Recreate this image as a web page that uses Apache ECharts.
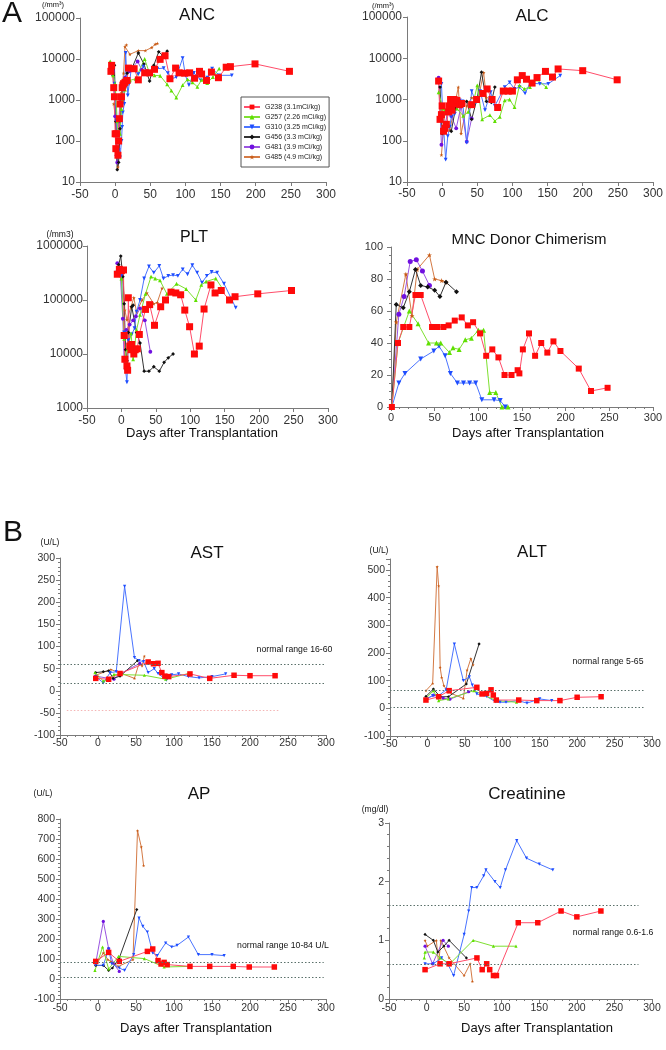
<!DOCTYPE html>
<html><head><meta charset="utf-8">
<script src="https://cdn.jsdelivr.net/npm/echarts@6/dist/echarts.min.js"></script>
<style>html,body{margin:0;padding:0;background:#fff}#c{width:666px;height:1050px}</style>
</head><body><div id="c"></div>
<script>
const subjects = ['G238 (3.1mCi/kg)','G257 (2.26 mCi/kg)','G310 (3.25 mCi/kg)','G456 (3.3 mCi/kg)','G481 (3.9 mCi/kg)','G485 (4.9 mCi/kg)'];

// ANC (/mm3)
const ancG238 = [[-6,5000],[-5,7000],[-2,2000],[-1,1200],[0,150],[1,65],[2,150],[4,45],[5,100],[6,350],[7,800],[9,1200],[10,2000],[11,2300],[12,2500],[14,2700],[17,3000],[19,6000],[27,5800],[33,3100],[42,4600],[49,4600],[56,5600],[64,9800],[71,12000],[78,3300],[86,6000],[91,4600],[99,4500],[106,4600],[113,3400],[120,5000],[123,4300],[130,3000],[137,4800],[147,3500],[158,6300],[164,6500],[199,7600],[248,5000]];
const ancG257 = [[-7,8800],[-5,6000],[-3,4000],[0,2500],[3,300],[5,100],[7,150],[9,600],[10,1000],[14,1800],[21,3000],[29,3300],[42,10000],[48,5000],[56,4000],[64,3900],[74,2400],[80,1700],[87,1150],[96,2300],[103,3200],[110,2700],[117,2100],[123,3100],[131,2600],[139,3600],[148,5800]];
const ancG310 = [[-5,7600],[-3,5000],[-1,2500],[2,300],[5,60],[7,40],[9,100],[10,220],[11,500],[13,800],[15,14000],[18,1300],[20,2500],[23,5600],[33,4300],[40,6500],[45,5000],[60,5800],[69,6000],[75,4500],[80,3300],[87,3600],[96,10500],[100,4000],[105,2300],[112,4600],[122,3000],[131,3500],[138,5800],[148,4000],[166,4000]];
const ancG456 = [[-6,6500],[-3,4000],[-1,7000],[1,300],[2,60],[3,20],[5,30],[7,200],[10,1800],[12,3000],[17,4500],[24,6000],[33,14000],[41,7500],[49,2900],[55,7000],[62,15000],[68,12000],[74,15500]];
const ancG481 = [[-5,7000],[-3,5000],[0,400],[2,45],[3,30],[5,300],[7,900],[10,1000],[14,3500],[20,5000],[32,8700],[38,5500]];
const ancG485 = [[-2,800],[1,300],[3,60],[4,23],[6,200],[9,1500],[12,4500],[14,20000],[16,22000],[21,13000],[33,16000],[43,16000],[52,19000],[57,23000],[60,24000]];

// ALC (/mm3)
const alcG238 = [[-5,2800],[-3,330],[-1,430],[0,700],[2,170],[4,200],[6,250],[9,500],[10,700],[12,1000],[14,550],[17,1000],[19,800],[21,950],[25,750],[28,800],[42,750],[49,1000],[58,1400],[64,1800],[71,1000],[79,640],[87,1600],[94,1600],[100,1600],[107,3000],[114,3800],[120,3100],[128,2500],[135,3400],[147,4800],[157,3500],[165,5500],[200,5000],[249,3000]];
const alcG257 = [[-5,1500],[1,600],[4,550],[9,650],[13,720],[21,600],[30,400],[37,500],[44,800],[50,2200],[57,330],[68,420],[75,300],[82,380],[89,950],[96,1000],[103,650],[110,2200],[117,1800],[125,2000],[134,3100],[148,2000]];
const alcG310 = [[-1,2400],[1,400],[5,35],[8,130],[11,220],[13,380],[18,450],[25,950],[29,900],[35,90],[42,1600],[48,850],[54,1600],[61,550],[69,1500],[75,700],[89,2000],[96,2600],[103,1800],[110,2000],[118,1400],[125,2500],[139,2400],[151,2400],[168,3800]];
const alcG456 = [[-3,2000],[0,150],[6,250],[13,170],[19,600],[27,800],[35,900],[42,330],[50,1100],[56,4600],[63,900],[70,850],[75,2000]];
const alcG481 = [[-5,3400],[-1,80],[4,250],[9,550],[13,400],[20,200],[27,700],[35,95],[42,350]];
const alcG485 = [[-1,45],[4,550],[11,180],[16,500],[23,2000],[27,150],[35,700],[42,1100],[51,950],[59,4500],[63,1100]];

// PLT (/mm3)
const pltG238 = [[-6,300000],[-3,370000],[0,350000],[3,360000],[4,22000],[5,8000],[8,6000],[9,5000],[10,110000],[12,14000],[14,12000],[15,15000],[18,10000],[20,12000],[23,12500],[26,23000],[35,67000],[41,82000],[48,34000],[57,75000],[64,100000],[72,140000],[79,135000],[86,125000],[92,65000],[99,32000],[106,10000],[113,14000],[120,68000],[130,190000],[136,135000],[145,150000],[157,100000],[165,115000],[198,130000],[247,150000]];
const pltG257 = [[-6,290000],[0,250000],[4,19000],[7,6800],[9,12000],[14,24000],[17,8000],[22,28000],[27,53000],[35,130000],[43,270000],[49,250000],[56,230000],[66,130000],[80,200000],[94,160000],[108,100000],[116,190000],[123,220000],[137,250000],[147,160000]];
const pltG310 = [[-7,320000],[0,280000],[4,25000],[6,5000],[8,3000],[10,18000],[15,23000],[19,30000],[22,61000],[27,100000],[33,250000],[40,420000],[47,320000],[55,430000],[61,250000],[68,280000],[75,290000],[82,280000],[89,370000],[96,300000],[103,440000],[110,320000],[117,210000],[124,280000],[131,330000],[139,320000],[149,200000],[166,72000]];
const pltG456 = [[-4,450000],[-1,650000],[2,270000],[4,85000],[6,12000],[8,7500],[10,25000],[15,75000],[17,80000],[22,25000],[27,16000],[33,4800],[40,4800],[47,5800],[55,4800],[62,7000],[68,8500],[75,10000]];
const pltG481 = [[-6,480000],[-2,360000],[2,45000],[4,7500],[7,28000],[12,35000],[17,42000],[21,50000],[27,70000],[34,42000],[42,11000]];
const pltG485 = [[-4,400000],[2,320000],[5,65000],[8,43000],[14,75000],[18,110000],[22,60000],[30,100000],[37,135000],[47,85000],[52,90000],[59,165000]];

// MNC donor chimerism (%)
const mncG238 = [[1,0],[8,40],[14,50],[21,50],[28,70],[34,70],[47,50],[53,50],[60,50],[66,51],[73,54],[81,56],[88,51],[94,53],[102,46],[109,32],[116,36],[123,31],[130,20],[138,20],[145,23],[147,21],[151,36],[158,46],[165,32],[172,40],[179,34],[186,41],[194,35],[215,24],[229,10],[248,12]];
const mncG257 = [[1,0],[8,40],[21,60],[31,52],[43,40],[52,40],[57,40],[67,34],[71,37],[78,36],[85,42],[92,43],[100,48],[106,48],[113,9],[120,9],[127,0],[134,0]];
const mncG310 = [[1,0],[9,15],[16,21],[34,30],[49,35],[55,38],[62,32],[68,21],[76,15],[83,15],[90,15],[97,15],[104,4.5],[118,4.5],[125,4],[131,0]];
const mncG456 = [[1,0],[6,64],[14,62],[21,72],[28,86],[34,76],[42,75],[50,73],[56,69],[63,78],[75,72]];
const mncG481 = [[1,0],[9,58],[15,69],[22,91],[29,92],[36,85],[44,76]];
const mncG485 = [[1,0],[6,53],[17,83],[24,57],[30,86],[44,95],[50,80],[58,79],[63,78]];

// AST (U/L)
const astG238 = [[-3,28],[14,26],[29,39],[66,65],[73,61],[79,62],[84,41],[88,33],[93,32],[121,38],[147,28],[179,35],[200,34],[233,34]];
const astG257 = [[-4,41],[7,22],[13,24],[21,37],[61,35],[89,26],[119,39]];
const astG310 = [[-3,32],[7,18],[16,41],[24,43],[35,236],[48,75],[54,68],[60,66],[66,41],[74,50],[79,39],[90,24],[97,36],[106,38],[119,32],[133,29],[150,32],[168,38]];
const astG456 = [[-3,41],[7,43],[14,45],[20,28],[29,33],[52,68]];
const astG481 = [[-3,33],[21,26],[29,38],[55,62]];
const astG485 = [[-3,35],[17,48],[48,28],[54,62],[58,56],[61,78]];

// ALT (U/L)
const altG238 = [[-2,30],[15,42],[29,64],[66,76],[73,52],[79,54],[85,67],[88,48],[92,30],[122,30],[146,28],[177,28],[200,40],[232,42]];
const altG257 = [[-2,36],[8,64],[15,28],[28,34],[62,64],[92,28],[119,22]];
const altG310 = [[-2,34],[7,46],[15,46],[25,67],[36,232],[48,100],[56,114],[60,84],[66,52],[79,43],[91,24],[97,22],[105,22],[121,28],[133,19],[150,34],[166,28]];
const altG456 = [[-2,43],[8,70],[17,42],[28,42],[52,88],[69,233]];
const altG481 = [[-2,31],[8,48],[21,37],[30,33],[55,60]];
const altG485 = [[-2,64],[7,90],[13,512],[15,443],[17,148],[19,112],[22,82],[28,58],[48,36],[53,138],[58,180],[61,157]];

// AP (U/L)
const apG238 = [[-3,88],[14,133],[28,88],[65,138],[72,150],[79,92],[83,75],[87,83],[91,72],[121,63],[147,63],[178,63],[199,60],[232,60]];
const apG257 = [[-4,43],[6,160],[14,50],[27,113],[61,102],[87,60],[120,63]];
const apG310 = [[-3,68],[7,68],[14,150],[18,77],[28,55],[35,43],[47,122],[54,305],[59,263],[65,235],[72,130],[78,117],[89,180],[97,160],[104,168],[119,210],[132,122],[150,122],[166,117]];
const apG456 = [[-3,68],[7,68],[14,43],[19,55],[28,105],[51,347]];
const apG481 = [[-3,80],[7,288],[14,152],[20,80],[28,38]];
const apG485 = [[-3,67],[7,130],[13,97],[17,88],[27,63],[46,97],[52,742],[57,660],[60,567]];

// Creatinine (mg/dl)
const crG238 = [[-2,0.5],[18,0.6],[30,0.6],[67,0.7],[74,0.5],[80,0.6],[84,0.5],[89,0.4],[93,0.4],[122,1.3],[148,1.3],[179,1.5],[200,1.4],[232,1.5]];
const crG257 = [[-3,0.7],[-2,0.8],[9,0.8],[18,0.7],[31,0.6],[62,1.0],[89,0.9],[119,0.9]];
const crG310 = [[-2,0.6],[9,0.6],[20,0.7],[28,0.6],[36,0.4],[50,1.1],[56,1.5],[60,1.9],[67,1.9],[76,2.1],[79,2.2],[91,2.0],[98,1.9],[105,2.2],[120,2.7],[133,2.4],[150,2.3],[168,2.2]];
const crG456 = [[-2,1.1],[9,1.0],[15,0.8],[23,0.9],[30,1.0],[53,0.7]];
const crG481 = [[-2,0.9],[8,0.6],[22,1.0],[29,0.9]];
const crG485 = [[-2,1.0],[1,0.9],[13,1.0],[16,0.6],[19,1.0],[30,0.7],[50,0.4],[58,0.6],[61,0.3]];

// normal ranges
const astNormal = [16, 60];
const altNormal = [5, 65];
const apNormal = [10, 84];
const crNormal = [0.6, 1.6];
const astFaintLine = -44;

const FF = 'Arial, "Liberation Sans", Helvetica, sans-serif';
const styles = [
  {marker:'#ff0a0a', line:'#ff4d6a', symbol:'rect'},
  {marker:'#5fe000', line:'#7ee030', symbol:'triangle'},
  {marker:'#1e4dff', line:'#4a74ff', symbol:'path://M0,0L10,0L5,10Z'},
  {marker:'#111111', line:'#333333', symbol:'diamond'},
  {marker:'#7010e0', line:'#9a55e0', symbol:'circle'},
  {marker:'#c85a14', line:'#d47a45', symbol:'path://M5,0L6.2,3.8L10,3.8L7,6.2L8.1,10L5,7.6L1.9,10L3,6.2L0,3.8L3.8,3.8Z'}
];

const panels = [
  {g:[80,18,246,164], x:[-50,300,50], y:{type:'log',min:10,max:100000}, data:[ancG238,ancG257,ancG310,ancG456,ancG481,ancG485], fs:12, ym:5, xm:7, minor:false, red:7, oth:3.8},
  {g:[407,17,246,165], x:[-50,300,50], y:{type:'log',min:10,max:100000}, data:[alcG238,alcG257,alcG310,alcG456,alcG481,alcG485], fs:12, ym:5, xm:6, minor:false, red:7, oth:3.8},
  {g:[87,246,241,162], x:[-50,300,50], y:{type:'log',min:1000,max:1000000}, data:[pltG238,pltG257,pltG310,pltG456,pltG481,pltG485], fs:12, ym:4, xm:7, minor:false, red:7, oth:3.8},
  {g:[391,247,262,160], x:[0,300,50], y:{type:'value',min:0,max:100,interval:20}, data:[mncG238,mncG257,mncG310,mncG456,mncG481,mncG485], fs:11, ym:8, xm:5, minor:true, red:6, oth:5},
  {g:[60,558,266,177], x:[-50,300,50], y:{type:'value',min:-100,max:300,interval:50}, data:[astG238,astG257,astG310,astG456,astG481,astG485], fs:10.5, ym:5, xm:3, minor:true, red:5.5, oth:3.2, ref:astNormal, refEnd:300},
  {g:[390,559,262,177], x:[-50,300,50], y:{type:'value',min:-100,max:540,interval:100}, data:[altG238,altG257,altG310,altG456,altG481,altG485], fs:10.5, ym:5, xm:3, minor:true, red:5.5, oth:3.2, ref:altNormal, refEnd:289, hideMax:true},
  {g:[60,819,266,180], x:[-50,300,50], y:{type:'value',min:-100,max:800,interval:100}, data:[apG238,apG257,apG310,apG456,apG481,apG485], fs:10.5, ym:5, xm:4, minor:true, red:5.5, oth:3.2, ref:apNormal, refEnd:297},
  {g:[389,823,263,176], x:[-50,300,50], y:{type:'value',min:0,max:3,interval:1}, data:[crG238,crG257,crG310,crG456,crG481,crG485], fs:10.5, ym:5, xm:4, minor:true, red:5.5, oth:3.2, ref:crNormal, refEnd:282}
];

const axisLineStyle = {lineStyle:{color:'#7a7a7a', width:1}};
const grid = [], xAxis = [], yAxis = [], series = [];
const drawOrder = [5,4,3,2,1,0];

panels.forEach((p, i) => {
  grid.push({left:p.g[0], top:p.g[1], width:p.g[2], height:p.g[3], containLabel:false, outerBoundsMode:'none'});
  xAxis.push({
    type:'value', gridIndex:i, min:p.x[0], max:p.x[1], interval:p.x[2],
    axisLine:Object.assign({show:true, onZero:false}, axisLineStyle),
    axisTick:{show:true, length:4, lineStyle:{color:'#7a7a7a'}},
    minorTick:{show:p.minor, splitNumber:5, length:2, lineStyle:{color:'#7a7a7a'}},
    splitLine:{show:false}, minorSplitLine:{show:false},
    axisLabel:{fontSize:p.fs, color:'#333', fontFamily:FF, margin:p.xm, formatter:v=>String(Math.round(v))}
  });
  const y = Object.assign({gridIndex:i}, p.y);
  if (p.y.type === 'log') y.logBase = 10;
  Object.assign(y, {
    axisLine:Object.assign({show:true, onZero:false}, axisLineStyle),
    axisTick:{show:true, length:4, lineStyle:{color:'#7a7a7a'}},
    minorTick:{show:p.minor, splitNumber:p.y.type==='log'?0:(i===3?4:5), length:2, lineStyle:{color:'#7a7a7a'}},
    splitLine:{show:false}, minorSplitLine:{show:false},
    axisLabel:{fontSize:p.fs, color:'#333', fontFamily:FF, margin:p.ym, showMaxLabel:!p.hideMax,
      formatter:v=>{ if (p.y.type==='log') return String(Math.round(v)); return String(Math.round(v*100)/100); }}
  });
  yAxis.push(y);
  let first = true;
  drawOrder.forEach(k => {
    const st = styles[k];
    const s = {
      type:'line', name:subjects[k], xAxisIndex:i, yAxisIndex:i, data:p.data[k],
      symbol:st.symbol, symbolSize:k===0?p.red:p.oth, showSymbol:true,
      itemStyle:{color:st.marker}, lineStyle:{color:st.line, width:1},
      emphasis:{disabled:true}, silent:true, animation:false, z:2
    };
    if (first && p.ref) {
      const ml = p.ref.map(v => [{coord:[p.x[0], v]}, {coord:[p.refEnd, v]}]);
      if (i === 4) ml.push([{coord:[-41, astFaintLine], lineStyle:{color:'#f4b4b4'}}, {coord:[239, astFaintLine]}]);
      s.markLine = {silent:true, symbol:'none', label:{show:false}, animation:false,
        lineStyle:{type:[1.5,2], color:'#5a706a', width:1}, data:ml};
    }
    first = false;
    series.push(s);
  });
});

function t(text, cx, top, size, extra) {
  return Object.assign({text, left:cx, top, textAlign:'center', textVerticalAlign:'top', padding:0,
    textStyle:{fontSize:size, fontWeight:'normal', color:'#111', fontFamily:FF}}, extra || {});
}
const titles = [
  {text:'A', left:2, top:-1, padding:0, textStyle:{fontSize:30, fontWeight:'normal', color:'#111', fontFamily:FF}},
  {text:'B', left:3, top:518, padding:0, textStyle:{fontSize:30, fontWeight:'normal', color:'#111', fontFamily:FF}},
  t('ANC', 197, 7, 17), t('ALC', 532, 7.5, 17), t('PLT', 194, 230, 16), t('MNC Donor Chimerism', 529, 232.5, 15),
  t('AST', 207, 544.5, 17), t('ALT', 532, 543.5, 17), t('AP', 199, 785.5, 17), t('Creatinine', 527, 786, 17),
  t('Days after Transplantation', 202, 426.5, 13), t('Days after Transplantation', 528, 426.5, 13),
  t('Days after Transplantation', 196, 1021.5, 13), t('Days after Transplantation', 537, 1021.5, 13),
  t('(/mm³)', 53, 1, 7.5), t('(/mm³)', 383, 2, 7.5), t('(/mm3)', 60, 230, 8.5),
  t('(U/L)', 50, 538, 8.5), t('(U/L)', 379, 546, 8.5), t('(U/L)', 43, 789.5, 8.5), t('(mg/dl)', 375, 805.5, 8.5),
  t('normal range 16-60', 294.5, 645.5, 8.7), t('normal range 5-65', 608, 657, 8.7),
  t('normal range 10-84 U/L', 283, 941.5, 8.7), t('normal range 0.6-1.6', 613, 928.5, 8.7)
];

const chart = echarts.init(document.getElementById('c'), null, {renderer:'canvas'});
chart.setOption({
  animation:false,
  backgroundColor:'#ffffff',
  title:titles,
  legend:{
    show:true, data:subjects, orient:'vertical', left:241, top:97, padding:[6,3,6,2],
    itemWidth:16, itemHeight:6, itemGap:2, borderColor:'#555', borderWidth:1, backgroundColor:'#fff',
    selectedMode:false, textStyle:{fontSize:7, color:'#222', fontFamily:FF, lineHeight:8}
  },
  grid, xAxis, yAxis, series
});
</script>
</body></html>
